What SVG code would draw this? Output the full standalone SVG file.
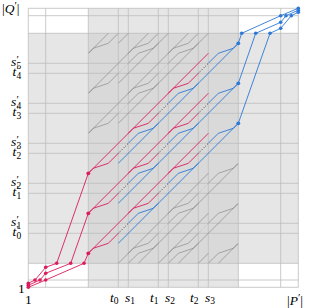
<svg xmlns="http://www.w3.org/2000/svg" xmlns:xlink="http://www.w3.org/1999/xlink" width="311" height="308" viewBox="0 0 311 308">
<style>
.grid{fill:none;stroke:#bdbdbd;stroke-width:.8}
.gl{fill:none;stroke:#858585;stroke-width:.65}
.gd{fill:none;stroke:#aaaaaa;stroke-width:.7;stroke-dasharray:1 1.5}
.pk{fill:none;stroke:#dd1a5c;stroke-width:.9}
.bl{fill:none;stroke:#2b78d6;stroke-width:.9}
.bk{fill:none;stroke:#222;stroke-width:.8;stroke-dasharray:1 1.5}
.pdot{fill:#dd1a5c}
.bdot{fill:#2b78d6}
.lab{font-family:"Liberation Serif",serif;font-style:italic;font-size:13.5px;fill:#000}
.up{font-style:normal}
.sub{font-style:normal;font-size:9.5px}
.pr{font-style:normal;font-size:11px}
</style>
<defs>
<clipPath id="dark"><rect x="88.3" y="33.3" width="150" height="230"/></clipPath>
<g id="chG">
<path class="gl" d="M88.3 173.3L208.3 53.3M118.3 163.3L238.3 43.3M88.3 173.3L93.3 168.3L108.3 163.3L118.3 153.3M128.3 133.3L133.3 128.3L148.3 123.3L158.3 113.3M168.3 93.3L173.3 88.3L188.3 83.3L198.3 73.3M128.3 143.3L138.3 133.3L153.3 128.3L158.3 123.3M168.3 103.3L178.3 93.3L193.3 88.3L198.3 83.3M208.3 63.3L218.3 53.3L233.3 48.3L238.3 43.3"/>
<path class="gd" d="M118.3 153.3L128.3 143.3M158.3 113.3L168.3 103.3M198.3 73.3L208.3 63.3"/>
</g>
<g id="chC">
<path class="pk" d="M88.3 173.3L208.3 53.3M88.3 173.3L93.3 168.3L108.3 163.3L118.3 153.3M128.3 133.3L133.3 128.3L148.3 123.3L158.3 113.3M168.3 93.3L173.3 88.3L188.3 83.3L198.3 73.3"/>
<path class="bl" d="M118.3 163.3L238.3 43.3M128.3 143.3L138.3 133.3L153.3 128.3L158.3 123.3M168.3 103.3L178.3 93.3L193.3 88.3L198.3 83.3M208.3 63.3L218.3 53.3L233.3 48.3L238.3 43.3"/>
<path class="bk" d="M118.3 153.3L128.3 143.3M158.3 113.3L168.3 103.3M198.3 73.3L208.3 63.3"/>
</g>
</defs>
<g id="background">
<rect x="0" y="0" width="311" height="308" fill="#fff"/>
<rect x="88.3" y="8.3" width="150" height="279" fill="#e6e6e6"/>
<rect x="28.3" y="33.3" width="270" height="230" fill="#e6e6e6"/>
<rect x="88.3" y="33.3" width="150" height="230" fill="#d9d9d9"/>
</g>
<g id="grid">
<path class="grid" d="M28.3 8.3V287.3M45.7 8.3V287.3M88.3 8.3V287.3M118.3 8.3V287.3M128.3 8.3V287.3M158.3 8.3V287.3M168.3 8.3V287.3M198.3 8.3V287.3M208.3 8.3V287.3M238.3 8.3V287.3M280.7 8.3V287.3M298.3 8.3V287.3M28.3 8.3H298.3M28.3 15.7H298.3M28.3 33.3H298.3M28.3 63.3H298.3M28.3 73.3H298.3M28.3 103.3H298.3M28.3 113.3H298.3M28.3 143.3H298.3M28.3 153.3H298.3M28.3 183.3H298.3M28.3 193.3H298.3M28.3 223.3H298.3M28.3 233.3H298.3M28.3 263.3H298.3M28.3 280H298.3M28.3 287.3H298.3"/>
</g>
<g id="gadgets" clip-path="url(#dark)">
<use xlink:href="#chG" transform="translate(0,-120)"/>
<use xlink:href="#chG" transform="translate(0,-80)"/>
<use xlink:href="#chG" transform="translate(0,-40)"/>
<use xlink:href="#chG" transform="translate(0,120)"/>
<use xlink:href="#chG" transform="translate(0,160)"/>
<use xlink:href="#chG" transform="translate(0,200)"/>
<use xlink:href="#chC"/>
<use xlink:href="#chC" transform="translate(0,40)"/>
<use xlink:href="#chC" transform="translate(0,80)"/>
</g>
<g id="connectors">
<path class="pk" d="M28.3 283.3L35 280L45.7 267.3L56.7 263.3L88.3 173.3M28.3 285.3L40 280L45.7 273.3L70.7 263.3L88.3 213.3M28.3 287.3L45.7 280L84 263.3L88.3 253.3"/>
<path class="bl" d="M238.3 123.3L270 33.3L280.7 28.3L291.3 15.7L298.3 12.3M238.3 83.3L255.7 33.3L280.7 22.3L286 15.7L298.3 10.3M238.3 43.3L241.7 33.3L280.7 15.7L298.3 8.3"/>
</g>
<g id="pink-dots" class="pdot">
<circle cx="28.3" cy="283.3" r="1.8"/><circle cx="28.3" cy="285.3" r="1.8"/><circle cx="28.3" cy="287.3" r="1.8"/>
<circle cx="35" cy="280" r="1.8"/><circle cx="40" cy="280" r="1.8"/><circle cx="45.7" cy="280" r="1.8"/>
<circle cx="45.7" cy="267.3" r="1.8"/><circle cx="45.7" cy="273.3" r="1.8"/>
<circle cx="56.7" cy="263.3" r="1.8"/><circle cx="70.7" cy="263.3" r="1.8"/><circle cx="84" cy="263.3" r="1.8"/>
<circle cx="88.3" cy="173.3" r="1.9"/><circle cx="88.3" cy="213.3" r="1.9"/><circle cx="88.3" cy="253.3" r="1.9"/>
</g>
<g id="blue-dots" class="bdot">
<circle cx="298.3" cy="8.3" r="1.8"/><circle cx="298.3" cy="10.3" r="1.8"/><circle cx="298.3" cy="12.3" r="1.8"/>
<circle cx="291.3" cy="15.7" r="1.8"/><circle cx="286" cy="15.7" r="1.8"/><circle cx="280.7" cy="15.7" r="1.8"/>
<circle cx="280.7" cy="28.3" r="1.8"/><circle cx="280.7" cy="22.3" r="1.8"/>
<circle cx="270" cy="33.3" r="1.8"/><circle cx="255.7" cy="33.3" r="1.8"/><circle cx="241.7" cy="33.3" r="1.8"/>
<circle cx="238.3" cy="43.3" r="1.9"/><circle cx="238.3" cy="83.3" r="1.9"/><circle cx="238.3" cy="123.3" r="1.9"/>
</g>
<g id="labels" class="lab">
<text x="2" y="13"><tspan class="up">|</tspan>Q<tspan class="pr" dy="-4">′</tspan><tspan class="up" dy="4">|</tspan></text>
<text x="287" y="305"><tspan class="up">|</tspan>P<tspan class="pr" dy="-4">′</tspan><tspan class="up" dy="4">|</tspan></text>
<text class="up" x="18" y="293">1</text>
<text class="up" x="25" y="303.5">1</text>
<text x="11" y="66">s<tspan class="pr" x="16.6" y="63">′</tspan><tspan class="sub" x="16.6" y="69.3">5</tspan></text>
<text x="12.4" y="76">t<tspan class="pr" x="16.6" y="73">′</tspan><tspan class="sub" x="16.6" y="79.3">4</tspan></text>
<text x="11" y="106">s<tspan class="pr" x="16.6" y="103">′</tspan><tspan class="sub" x="16.6" y="109.3">4</tspan></text>
<text x="12.4" y="116">t<tspan class="pr" x="16.6" y="113">′</tspan><tspan class="sub" x="16.6" y="119.3">3</tspan></text>
<text x="11" y="146">s<tspan class="pr" x="16.6" y="143">′</tspan><tspan class="sub" x="16.6" y="149.3">3</tspan></text>
<text x="12.4" y="156">t<tspan class="pr" x="16.6" y="153">′</tspan><tspan class="sub" x="16.6" y="159.3">2</tspan></text>
<text x="11" y="186">s<tspan class="pr" x="16.6" y="183">′</tspan><tspan class="sub" x="16.6" y="189.3">2</tspan></text>
<text x="12.4" y="196">t<tspan class="pr" x="16.6" y="193">′</tspan><tspan class="sub" x="16.6" y="199.3">1</tspan></text>
<text x="11" y="226">s<tspan class="pr" x="16.6" y="223">′</tspan><tspan class="sub" x="16.6" y="229.3">1</tspan></text>
<text x="12.4" y="236">t<tspan class="pr" x="16.6" y="233">′</tspan><tspan class="sub" x="16.6" y="239.3">0</tspan></text>
<text x="110" y="301.5">t<tspan class="sub" dy="2.5">0</tspan></text>
<text x="125" y="301.5">s<tspan class="sub" dy="2.5">1</tspan></text>
<text x="150" y="301.5">t<tspan class="sub" dy="2.5">1</tspan></text>
<text x="165" y="301.5">s<tspan class="sub" dy="2.5">2</tspan></text>
<text x="190" y="301.5">t<tspan class="sub" dy="2.5">2</tspan></text>
<text x="205" y="301.5">s<tspan class="sub" dy="2.5">3</tspan></text>
</g>
</svg>
